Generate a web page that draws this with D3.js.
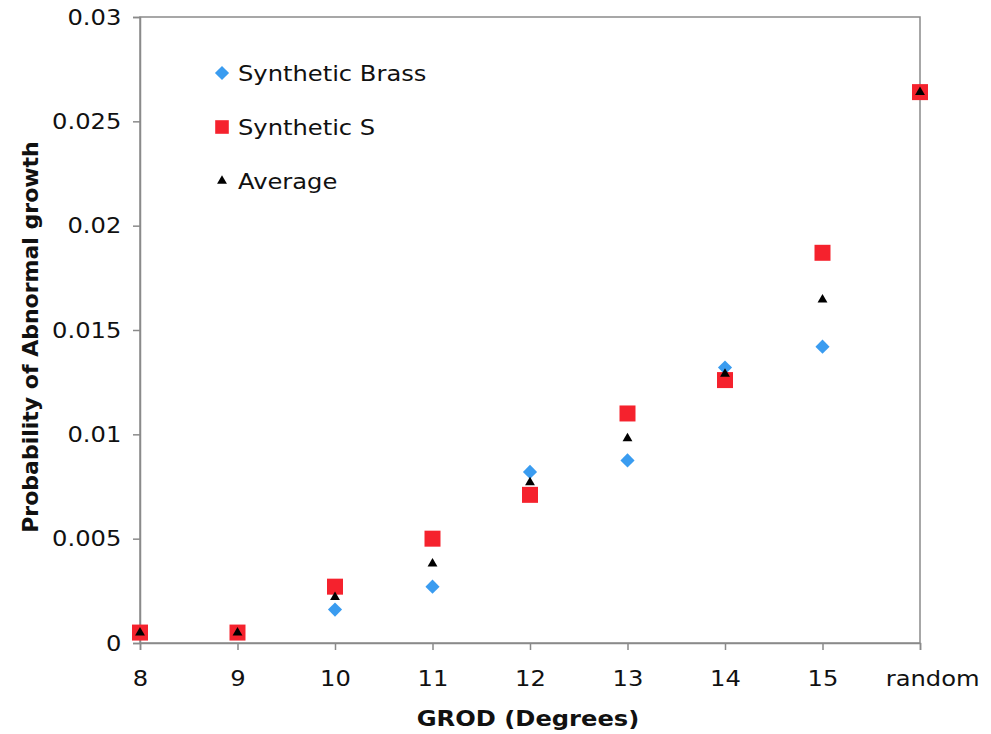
<!DOCTYPE html>
<html><head><meta charset="utf-8">
<script src="https://cdn.jsdelivr.net/npm/d3@7"></script>
<style>body{margin:0;background:#fff}svg{display:block}</style>
</head><body>
<svg id="c" width="991" height="734"></svg>
<script>
const categories = ["8","9","10","11","12","13","14","15","random"];
const brass   = [0.0005,0.0005,0.0016,0.0027,0.0082,0.00875,0.0132,0.0142,0.0264];
const synthS  = [0.0005,0.0005,0.0027,0.0050,0.0071,0.0110,0.0126,0.0187,0.0264];
const average = [0.0005,0.0005,0.0022,0.0038,0.0077,0.0098,0.0129,0.01645,0.0264];
const yTicks  = [0,0.005,0.01,0.015,0.02,0.025,0.03];
const yTickLabels = ["0","0.005","0.01","0.015","0.02","0.025","0.03"];
const seriesNames = ["Synthetic Brass","Synthetic S","Average"];

const svg = d3.select("#c");
const L=140,R=920,T=17,B=643;
const x = d3.scalePoint().domain(categories).range([L,R]);
const y = d3.scaleLinear().domain([0,0.03]).range([B,T]);
const font = "'DejaVu Sans', Verdana, sans-serif";
const axisCol = "#8a8a8a";
const FS = 22, SX = 1.1;

// frame
svg.append("rect").attr("x",L).attr("y",T).attr("width",R-L).attr("height",B-T)
  .attr("fill","none").attr("stroke",axisCol).attr("stroke-width",1.5);

const ya = svg.append("g").attr("transform",`translate(${L},0)`)
  .call(d3.axisLeft(y).tickValues(yTicks).tickFormat((d,i)=>yTickLabels[i]).tickSize(7).tickPadding(10));
const xa = svg.append("g").attr("transform",`translate(0,${B})`)
  .call(d3.axisBottom(x).tickSize(7).tickPadding(20));
[ya,xa].forEach(g=>{
  g.select(".domain").attr("stroke",axisCol).attr("stroke-width",1.5);
  g.selectAll(".tick line").attr("stroke",axisCol).attr("stroke-width",1.5);
  g.selectAll("text").attr("font-family",font).attr("font-size",FS).attr("fill","#111")
    .attr("transform",`scale(${SX},1)`);
});
xa.selectAll(".tick text").filter(d=>d==="random").attr("dx",11);

const diamond = d3.symbol().type(d3.symbolSquare).size(100);
const square = d3.symbol().type(d3.symbolSquare).size(256);
const tri = d3.symbol().type(d3.symbolTriangle).size(42);

function drawSeries(vals, sym, fill, rot){
  svg.append("g").selectAll("path").data(vals).join("path")
    .attr("d",sym)
    .attr("transform",(d,i)=>`translate(${x(categories[i])},${y(d)}) rotate(${rot})`)
    .attr("fill",fill);
}
drawSeries(brass, diamond, "#3a9cf0", 45);
drawSeries(synthS, square, "#f5222d", 0);
drawSeries(average, tri, "#000", 0);

// legend
const leg = svg.append("g");
const legY=[73,127,181];
const legSyms=[[diamond,"#3a9cf0",45],[square,"#f5222d",0],[tri,"#000",0]];
legY.forEach((ly,i)=>{
  leg.append("path").attr("d",legSyms[i][0]).attr("fill",legSyms[i][1])
    .attr("transform",`translate(222,${ly}) rotate(${legSyms[i][2]}) scale(${i==1?0.85:1})`);
  leg.append("text").attr("transform",`translate(238,${ly+8}) scale(${SX},1)`).text(seriesNames[i])
    .attr("font-family",font).attr("font-size",FS).attr("fill","#111");
});

// axis titles
svg.append("text").attr("transform",`translate(528,726) scale(${SX},1)`).attr("text-anchor","middle")
  .attr("font-family",font).attr("font-size",FS).attr("font-weight","bold").attr("fill","#111")
  .text("GROD (Degrees)");
svg.append("text").attr("transform","translate(38,337) rotate(-90)").attr("text-anchor","middle")
  .attr("font-family",font).attr("font-size",FS).attr("font-weight","bold").attr("fill","#111")
  .text("Probability of Abnormal growth");
</script>
</body></html>
